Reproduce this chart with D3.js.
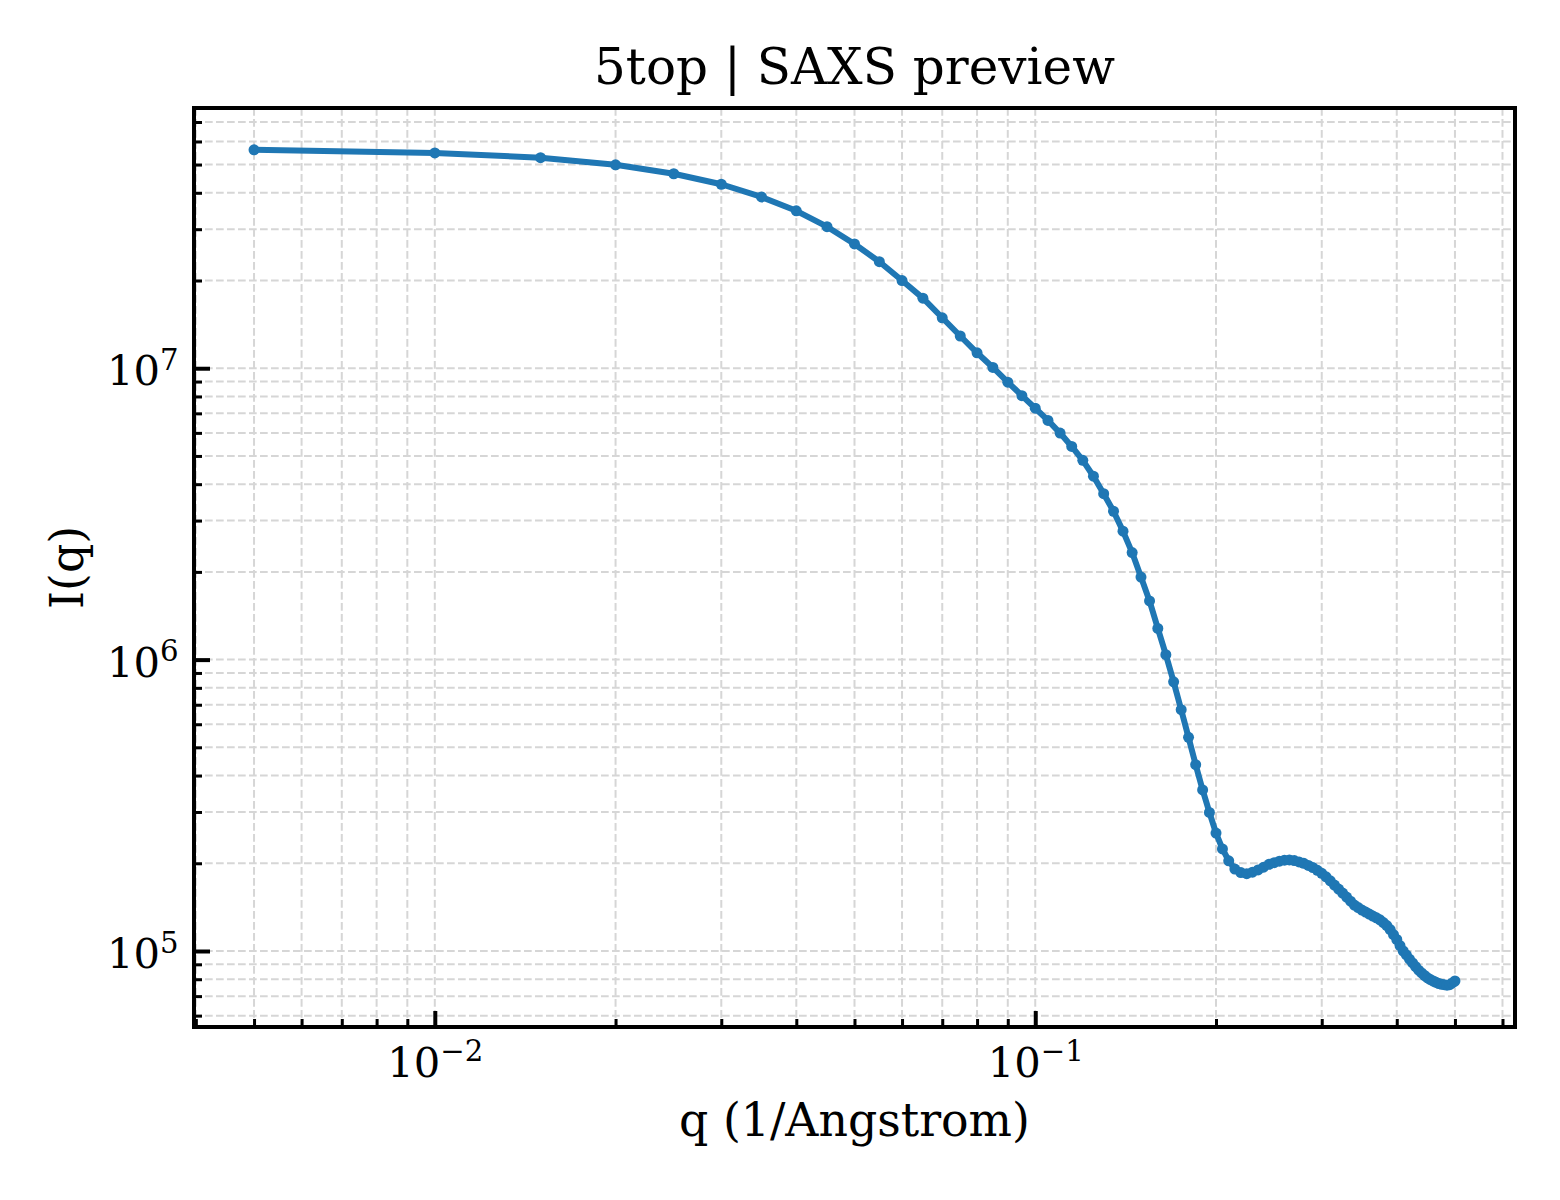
<!DOCTYPE html>
<html>
<head>
<meta charset="utf-8">
<script src="https://cdn.jsdelivr.net/npm/d3@7"></script>
<style>
	body { margin: 0; background: #fff; }
	svg text { font-family: "DejaVu Serif", serif; fill: #000; }
</style>
</head>
<body>
<svg id="chart" width="1560" height="1200"></svg>
<script>
var qValues = [
	0.005, 0.010, 0.015, 0.020, 0.025, 0.030, 0.035, 0.040, 0.045, 0.050,
	0.055, 0.060, 0.065, 0.070, 0.075, 0.080, 0.085, 0.090, 0.095, 0.100,
	0.105, 0.110, 0.115, 0.120, 0.125, 0.130, 0.135, 0.140, 0.145, 0.150,
	0.155, 0.160, 0.165, 0.170, 0.175, 0.180, 0.185, 0.190, 0.195, 0.200,
	0.205, 0.210, 0.215, 0.220, 0.225, 0.230, 0.235, 0.240, 0.245, 0.250,
	0.255, 0.260, 0.265, 0.270, 0.275, 0.280, 0.285, 0.290, 0.295, 0.300,
	0.305, 0.310, 0.315, 0.320, 0.325, 0.330, 0.335, 0.340, 0.345, 0.350,
	0.355, 0.360, 0.365, 0.370, 0.375, 0.380, 0.385, 0.390, 0.395, 0.400,
	0.405, 0.410, 0.415, 0.420, 0.425, 0.430, 0.435, 0.440, 0.445, 0.450,
	0.455, 0.460, 0.465, 0.470, 0.475, 0.480, 0.485, 0.490, 0.495, 0.500
];

var intensity = [
	5.62e7, 5.48e7, 5.28e7, 4.99e7, 4.65e7, 4.28e7, 3.87e7, 3.47e7, 3.06e7, 2.67e7,
	2.32e7, 2.00e7, 1.74e7, 1.49e7, 1.29e7, 1.13e7, 1.006e7, 8.96e6, 8.05e6, 7.29e6,
	6.62e6, 5.99e6, 5.39e6, 4.83e6, 4.26e6, 3.71e6, 3.23e6, 2.76e6, 2.33e6, 1.92e6,
	1.59e6, 1.28e6, 1.04e6, 8.39e5, 6.73e5, 5.41e5, 4.36e5, 3.57e5, 2.99e5, 2.54e5,
	2.24e5, 2.04e5, 1.91e5, 1.858e5, 1.843e5, 1.865e5, 1.897e5, 1.940e5, 1.983e5, 2.010e5,
	2.033e5, 2.049e5, 2.054e5, 2.043e5, 2.022e5, 2.000e5, 1.966e5, 1.934e5, 1.891e5, 1.847e5,
	1.797e5, 1.741e5, 1.683e5, 1.631e5, 1.580e5, 1.531e5, 1.483e5, 1.437e5, 1.409e5, 1.382e5,
	1.360e5, 1.339e5, 1.318e5, 1.300e5, 1.279e5, 1.252e5, 1.223e5, 1.185e5, 1.139e5, 1.095e5,
	1.044e5, 1.000e5, 9.69e4, 9.37e4, 9.10e4, 8.84e4, 8.59e4, 8.41e4, 8.24e4, 8.09e4,
	7.98e4, 7.89e4, 7.81e4, 7.73e4, 7.69e4, 7.66e4, 7.63e4, 7.66e4, 7.77e4, 7.89e4
];

// major ticks and their exponent labels (drawn as 10^n)
var qMajorTicks = [0.01, 0.1],
	qTickExponents = ["\u22122", "\u22121"],
	iMajorTicks = [1e5, 1e6, 1e7],
	iTickExponents = ["5", "6", "7"];

var title = "5top | SAXS preview",
	xLabel = "q (1/Angstrom)",
	yLabel = "I(q)";

window.onload = _ => {
	var left = 194, right = 1515, top = 108, bottom = 1027,
		lineColor = "#1f77b4",
		gridColor = "#d6d6d6";

	// log-space padding of 5% like matplotlib's autoscale
	var pad = (lo, hi) => {
		var a = Math.log10(lo), b = Math.log10(hi), m = (b - a) * 0.05;
		return [Math.pow(10, a - m), Math.pow(10, b + m)];
	};

	var x = d3.scaleLog().domain(pad(d3.min(qValues), d3.max(qValues))).range([left, right]),
		y = d3.scaleLog().domain(pad(d3.min(intensity), d3.max(intensity))).range([bottom, top]);

	var isMajor = v => Math.abs(Math.log10(v) - Math.round(Math.log10(v))) < 1e-9;

	var xAll = x.ticks().filter(v => x(v) > left + 1 && x(v) < right - 1),
		yAll = y.ticks().filter(v => y(v) > top + 1 && y(v) < bottom - 1),
		xMinor = xAll.filter(v => !isMajor(v)),
		yMinor = yAll.filter(v => !isMajor(v));

	var data = qValues.map((q, i) => ({ q: q, I: intensity[i] }));

	var svg = d3.select("#chart");

	// grid (major + minor)
	var grid = svg.append("g")
		.attr("stroke", gridColor)
		.attr("stroke-width", 2)
		.attr("stroke-dasharray", "7.7,3.3");

	grid.selectAll(".vgrid")
		.data(xAll)
		.enter()
		.append("line")
		.attr("x1", d => x(d)).attr("x2", d => x(d))
		.attr("y1", top).attr("y2", bottom);

	grid.selectAll(".hgrid")
		.data(yAll)
		.enter()
		.append("line")
		.attr("x1", left).attr("x2", right)
		.attr("y1", d => y(d)).attr("y2", d => y(d));

	// curve
	var line = d3.line()
		.x(d => x(d.q))
		.y(d => y(d.I));

	svg.append("path")
		.datum(data)
		.attr("d", line)
		.attr("fill", "none")
		.attr("stroke", lineColor)
		.attr("stroke-width", 6)
		.attr("stroke-linejoin", "round")
		.attr("stroke-linecap", "round");

	svg.append("g")
		.selectAll("circle")
		.data(data)
		.enter()
		.append("circle")
		.attr("cx", d => x(d.q))
		.attr("cy", d => y(d.I))
		.attr("r", 5.5)
		.attr("fill", lineColor);

	// axes: inward ticks, labels drawn below
	var tickStyle = g => {
		g.select(".domain").remove();
		g.selectAll(".tick line").attr("stroke", "#000");
	};

	svg.append("g")
		.attr("transform", "translate(0," + bottom + ")")
		.call(d3.axisBottom(x).tickValues(xMinor).tickSizeInner(-8).tickSizeOuter(0).tickFormat(""))
		.call(tickStyle)
		.selectAll(".tick line").attr("stroke-width", 3);

	svg.append("g")
		.attr("transform", "translate(" + left + ",0)")
		.call(d3.axisLeft(y).tickValues(yMinor).tickSizeInner(-8).tickSizeOuter(0).tickFormat(""))
		.call(tickStyle)
		.selectAll(".tick line").attr("stroke-width", 3);

	var xMajorAxis = svg.append("g")
		.attr("transform", "translate(0," + bottom + ")")
		.call(d3.axisBottom(x).tickValues(qMajorTicks).tickSizeInner(-16).tickSizeOuter(0))
		.call(tickStyle);
	xMajorAxis.selectAll(".tick line").attr("stroke-width", 4);

	xMajorAxis.selectAll(".tick text")
		.text(null)
		.attr("y", 50)
		.attr("dy", null)
		.attr("font-size", 41.7)
		.attr("font-family", "DejaVu Serif")
		.attr("fill", "#000")
		.attr("text-anchor", "middle")
		.each(function (d, i) {
			var t = d3.select(this);
			t.append("tspan").text("10");
			t.append("tspan").attr("dy", -15.6).attr("font-size", 29.2).text(qTickExponents[i]);
		});

	var yMajorAxis = svg.append("g")
		.attr("transform", "translate(" + left + ",0)")
		.call(d3.axisLeft(y).tickValues(iMajorTicks).tickSizeInner(-16).tickSizeOuter(0))
		.call(tickStyle);
	yMajorAxis.selectAll(".tick line").attr("stroke-width", 4);

	yMajorAxis.selectAll(".tick text")
		.text(null)
		.attr("x", -15.5)
		.attr("dy", null)
		.attr("y", 16.5)
		.attr("font-size", 41.7)
		.attr("font-family", "DejaVu Serif")
		.attr("fill", "#000")
		.attr("text-anchor", "end")
		.each(function (d, i) {
			var t = d3.select(this);
			t.append("tspan").text("10");
			t.append("tspan").attr("dy", -15.4).attr("font-size", 29.2).text(iTickExponents[i]);
		});

	// frame
	svg.append("rect")
		.attr("x", left).attr("y", top)
		.attr("width", right - left).attr("height", bottom - top)
		.attr("fill", "none")
		.attr("stroke", "#000")
		.attr("stroke-width", 4);

	// texts
	svg.append("text")
		.attr("x", (left + right) / 2)
		.attr("y", 83.5)
		.attr("text-anchor", "middle")
		.attr("font-size", 50)
		.text(title);

	svg.append("text")
		.attr("x", (left + right) / 2)
		.attr("y", 1136)
		.attr("text-anchor", "middle")
		.attr("font-size", 45.8)
		.text(xLabel);

	svg.append("text")
		.attr("transform", "translate(83," + (top + bottom) / 2 + ") rotate(-90)")
		.attr("text-anchor", "middle")
		.attr("font-size", 45.8)
		.text(yLabel);
};
</script>
</body>
</html>
